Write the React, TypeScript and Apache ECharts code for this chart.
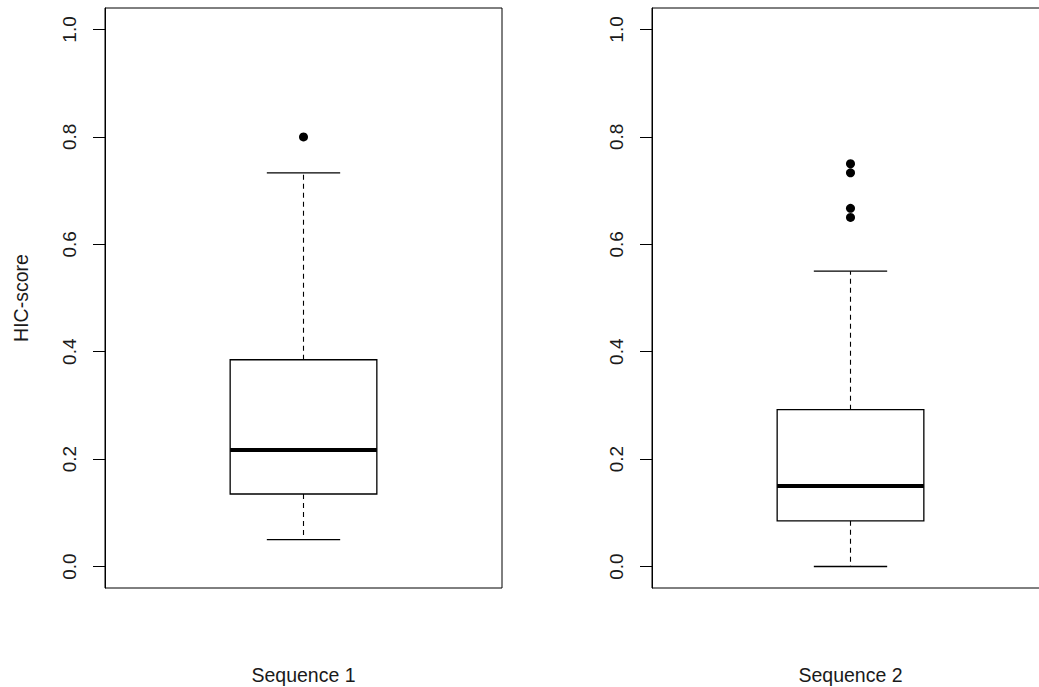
import React, { useEffect, useRef } from "react";
import * as echarts from "echarts";

const categories = ["Sequence 1", "Sequence 2"];
// [low whisker, Q1, median, Q3, high whisker]
const seq1Box = [0.05, 0.135, 0.217, 0.385, 0.733];
const seq2Box = [0.0, 0.085, 0.15, 0.292, 0.55];
const seq1Outliers = [0.8];
const seq2Outliers = [0.75, 0.733, 0.667, 0.65];
const yTicks = [0, 0.2, 0.4, 0.6, 0.8, 1.0];

const FONT = "Liberation Sans, Arial, sans-serif";
const TXT = "#1a1a1a";

function renderBox(params: any, api: any) {
  const idx = api.value(0);
  const low = api.coord([idx, api.value(1)]);
  const q1 = api.coord([idx, api.value(2)]);
  const med = api.coord([idx, api.value(3)]);
  const q3 = api.coord([idx, api.value(4)]);
  const high = api.coord([idx, api.value(5)]);
  const band = api.size([1, 0])[0];
  const bw = band * 0.3695;
  const cw = bw / 2;
  const cx = low[0];
  const lineStyle = { stroke: "#000", lineWidth: 1.3, fill: "none" };
  const dashStyle = { stroke: "#000", lineWidth: 1.1, lineDash: [5, 4] };
  return {
    type: "group",
    children: [
      { type: "line", shape: { x1: cx, y1: q3[1], x2: cx, y2: high[1] }, style: dashStyle },
      { type: "line", shape: { x1: cx, y1: q1[1], x2: cx, y2: low[1] }, style: dashStyle },
      { type: "line", shape: { x1: cx - cw / 2, y1: high[1], x2: cx + cw / 2, y2: high[1] }, style: lineStyle },
      { type: "line", shape: { x1: cx - cw / 2, y1: low[1], x2: cx + cw / 2, y2: low[1] }, style: lineStyle },
      { type: "rect", shape: { x: cx - bw / 2, y: q3[1], width: bw, height: q1[1] - q3[1] }, style: { stroke: "#000", lineWidth: 1.3, fill: "#fff" } },
      { type: "line", shape: { x1: cx - bw / 2, y1: med[1], x2: cx + bw / 2, y2: med[1] }, style: { stroke: "#000", lineWidth: 4 } },
    ],
  };
}

export default function App() {
  const ref = useRef<HTMLDivElement>(null);
  useEffect(() => {
    if (!ref.current) return;
    const chart = echarts.init(ref.current, null, { renderer: "svg" });
    const makeY = (gi: number, withName: boolean) => ({
      type: "value",
      gridIndex: gi,
      min: -0.04,
      max: 1.04,
      name: withName ? "HIC-score" : "",
      nameLocation: "middle",
      nameGap: 74,
      nameRotate: 90,
      nameTextStyle: { fontFamily: FONT, fontSize: 19.5, color: TXT },
      splitLine: { show: false },
      axisLine: { show: true, lineStyle: { color: "#000", width: 1 } },
      axisTick: { show: true, length: 12, customValues: yTicks, lineStyle: { color: "#000", width: 1 } },
      axisLabel: {
        show: true,
        customValues: yTicks,
        rotate: 90,
        margin: 26,
        fontFamily: FONT,
        fontSize: 19,
        color: TXT,
        formatter: (v: number) => v.toFixed(1),
      },
    });
    const makeX = (gi: number) => ({
      type: "category",
      gridIndex: gi,
      data: [categories[gi]],
      axisLine: { show: false },
      axisTick: { show: false },
      axisLabel: { show: true, margin: 77, fontFamily: FONT, fontSize: 19.5, color: TXT },
    });
    chart.setOption({
      animation: false,
      backgroundColor: "#fff",
      grid: [
        { left: 105, top: 8, width: 397, height: 580, show: true, borderColor: "#000", borderWidth: 1, backgroundColor: "transparent", outerBoundsMode: "none", containLabel: false },
        { left: 652, top: 8, width: 397, height: 580, show: true, borderColor: "#000", borderWidth: 1, backgroundColor: "transparent", outerBoundsMode: "none", containLabel: false },
      ],
      xAxis: [makeX(0), makeX(1)],
      yAxis: [makeY(0, true), makeY(1, false)],
      series: [
        {
          type: "custom",
          xAxisIndex: 0,
          yAxisIndex: 0,
          renderItem: renderBox,
          data: [[0, ...seq1Box]],
          encode: { x: 0, y: [1, 2, 3, 4, 5] },
        },
        {
          type: "custom",
          xAxisIndex: 1,
          yAxisIndex: 1,
          renderItem: renderBox,
          data: [[0, ...seq2Box]],
          encode: { x: 0, y: [1, 2, 3, 4, 5] },
        },
        {
          type: "scatter",
          xAxisIndex: 0,
          yAxisIndex: 0,
          symbol: "circle",
          symbolSize: 9,
          itemStyle: { color: "#000", opacity: 1 },
          data: seq1Outliers.map((v) => [0, v]),
        },
        {
          type: "scatter",
          xAxisIndex: 1,
          yAxisIndex: 1,
          symbol: "circle",
          symbolSize: 9,
          itemStyle: { color: "#000", opacity: 1 },
          data: seq2Outliers.map((v) => [0, v]),
        },
      ],
    });
    return () => chart.dispose();
  }, []);
  return (
    <div
      ref={ref}
      style={{ position: "absolute", left: 0, top: 0, width: 1039, height: 687, background: "#fff" }}
    />
  );
}
